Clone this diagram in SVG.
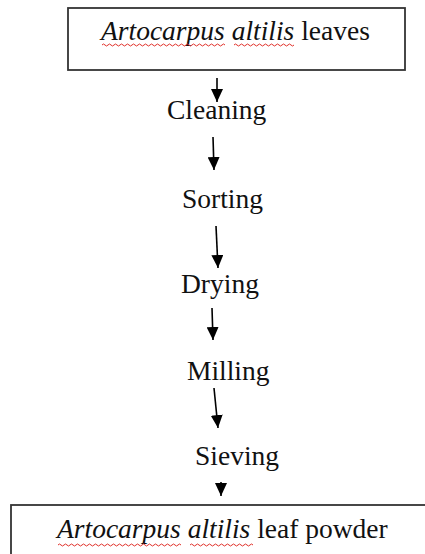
<svg xmlns="http://www.w3.org/2000/svg" width="425" height="554" viewBox="0 0 425 554">
  <style>
    .box { fill: #ffffff; stroke: #333333; stroke-width: 1.8; }
    .lbl { font-family: "Liberation Serif", "Times New Roman", serif; font-size: 27.5px; fill: #111111; }
    .it { font-style: italic; }
    .arrow { stroke: #000000; stroke-width: 1.6; fill: none; marker-end: url(#head); }
    .squiggle { stroke: #e0302a; stroke-width: 1; fill: none; }
  </style>
  <defs>
    <marker id="head" viewBox="0 0 13 12" refX="13" refY="6" markerWidth="13" markerHeight="12" markerUnits="userSpaceOnUse" orient="auto">
      <path d="M0,0 L13,6 L0,12 z" fill="#000000"/>
    </marker>
  </defs>
  <rect width="425" height="554" fill="#ffffff"/>

  <g id="leaves">
    <rect class="box" x="68" y="8" width="337" height="62"/>
    <text class="lbl" x="101" y="40"><tspan class="it">Artocarpus</tspan> <tspan class="it">altilis</tspan> leaves</text>
    <path class="squiggle" d="M102,45 q1.5,-2 3,0 t3,0 t3,0 t3,0 t3,0 t3,0 t3,0 t3,0 t3,0 t3,0 t3,0 t3,0 t3,0 t3,0 t3,0 t3,0 t3,0 t3,0 t3,0 t3,0 t3,0 t3,0 t3,0 t3,0 t3,0 t3,0 t3,0 t3,0 t3,0 t3,0 t3,0 t3,0 t3,0 t3,0 t3,0 t3,0 t3,0 t3,0 t3,0 t3,0 t3,0"/>
    <path class="squiggle" d="M234,45 q1.5,-2 3,0 t3,0 t3,0 t3,0 t3,0 t3,0 t3,0 t3,0 t3,0 t3,0 t3,0 t3,0 t3,0 t3,0 t3,0 t3,0 t3,0 t3,0 t3,0 t3,0"/>
  </g>

  <g id="cleaning"><text class="lbl" x="167" y="119">Cleaning</text></g>
  <g id="sorting"><text class="lbl" x="182" y="208">Sorting</text></g>
  <g id="drying"><text class="lbl" x="181" y="293">Drying</text></g>
  <g id="milling"><text class="lbl" x="187" y="380">Milling</text></g>
  <g id="sieving"><text class="lbl" x="195" y="465">Sieving</text></g>

  <g id="powder">
    <rect class="box" x="11" y="505" width="430" height="60"/>
    <text class="lbl" x="57" y="538"><tspan class="it">Artocarpus</tspan> <tspan class="it">altilis</tspan> leaf powder</text>
    <path class="squiggle" d="M58,545 q1.5,-2 3,0 t3,0 t3,0 t3,0 t3,0 t3,0 t3,0 t3,0 t3,0 t3,0 t3,0 t3,0 t3,0 t3,0 t3,0 t3,0 t3,0 t3,0 t3,0 t3,0 t3,0 t3,0 t3,0 t3,0 t3,0 t3,0 t3,0 t3,0 t3,0 t3,0 t3,0 t3,0 t3,0 t3,0 t3,0 t3,0 t3,0 t3,0 t3,0 t3,0 t3,0"/>
    <path class="squiggle" d="M190,545 q1.5,-2 3,0 t3,0 t3,0 t3,0 t3,0 t3,0 t3,0 t3,0 t3,0 t3,0 t3,0 t3,0 t3,0 t3,0 t3,0 t3,0 t3,0 t3,0 t3,0 t3,0 t3,0"/>
  </g>

  <g id="connectors">
    <line class="arrow" x1="217" y1="78" x2="217" y2="102"/>
    <line class="arrow" x1="213" y1="137" x2="214" y2="170"/>
    <line class="arrow" x1="216" y1="226" x2="218" y2="268"/>
    <line class="arrow" x1="212" y1="308" x2="213" y2="340"/>
    <line class="arrow" x1="214" y1="388" x2="218" y2="428"/>
    <line class="arrow" x1="221" y1="482" x2="221" y2="496"/>
  </g>
</svg>
